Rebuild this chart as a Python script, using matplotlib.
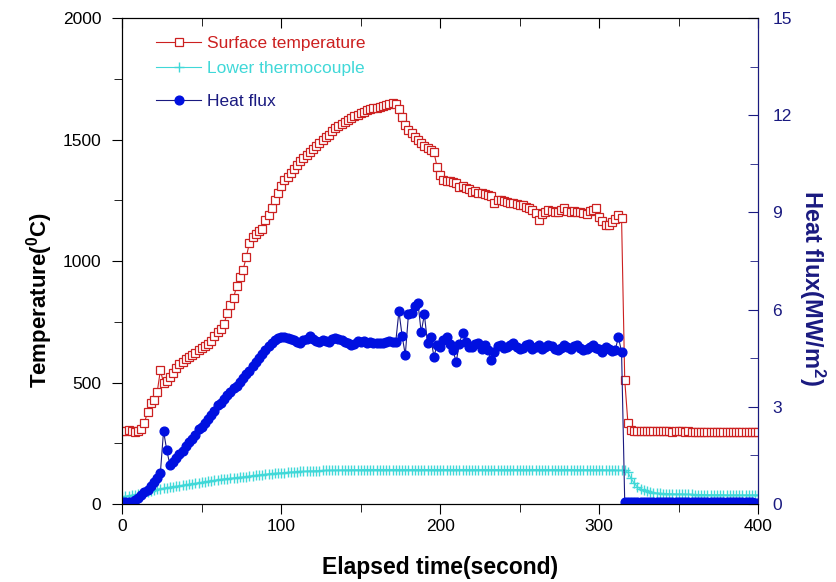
import numpy as np
import matplotlib
matplotlib.use('Agg')
import matplotlib.pyplot as plt
from matplotlib.ticker import MultipleLocator

plt.rcParams['font.family'] = ['Liberation Sans', 'DejaVu Sans']

# time axis, one reading every 2 s
time = np.arange(0, 401, 2)

# surface temperature (C)
surf_temp = [
    300, 300, 305, 300, 298, 300, 310, 335, 380, 415,
    430, 460, 550, 500, 505, 523, 540, 560, 575, 585,
    598, 607, 615, 622, 632, 642, 650, 660, 672, 690,
    706, 722, 740, 786, 819, 848, 897, 935, 963, 1016,
    1074, 1099, 1110, 1125, 1132, 1169, 1190, 1220, 1250, 1280,
    1310, 1333, 1346, 1362, 1380, 1395, 1410, 1422, 1435, 1448,
    1460, 1472, 1484, 1498, 1510, 1520, 1535, 1547, 1556, 1565,
    1572, 1580, 1588, 1595, 1602, 1609, 1615, 1620, 1624, 1628,
    1630, 1632, 1640, 1644, 1646, 1650, 1645, 1625, 1593, 1560,
    1539, 1525, 1510, 1498, 1485, 1475, 1465, 1455, 1449, 1387,
    1354, 1335, 1330, 1328, 1325, 1321, 1305, 1310, 1300, 1298,
    1284, 1290, 1282, 1280, 1275, 1272, 1268, 1239, 1250, 1251,
    1245, 1243, 1240, 1239, 1236, 1232, 1230, 1222, 1218, 1210,
    1198, 1169, 1195, 1202, 1210, 1205, 1200, 1202, 1210, 1218,
    1205, 1202, 1204, 1202, 1200, 1198, 1195, 1205, 1210, 1218,
    1181, 1165, 1150, 1148, 1160, 1175, 1189, 1177, 510, 333,
    305, 302, 300, 300, 301, 299, 300, 300, 301, 300,
    299, 300, 300, 298, 299, 300, 299, 298, 299, 298,
    297, 298, 298, 297, 298, 297, 296, 297, 297, 296,
    296, 297, 296, 296, 295, 296, 295, 295, 296, 295,
    295,
]

# lower thermocouple (C)
lower_tc = [
    30, 32, 34, 36, 38, 40, 43, 46, 50, 54,
    57, 60, 63, 65, 67, 69, 71, 73, 75, 77,
    79, 81, 83, 85, 87, 89, 91, 93, 95, 97,
    99, 101, 103, 104, 106, 107, 109, 110, 111, 113,
    115, 116, 118, 119, 121, 122, 124, 125, 126, 127,
    128, 129, 130, 131, 132, 133, 134, 134, 135, 136,
    136, 137, 137, 138, 138, 139, 139, 139, 140, 140,
    140, 140, 141, 141, 141, 141, 142, 142, 142, 142,
    142, 142, 142, 142, 142, 142, 142, 142, 142, 142,
    142, 142, 142, 142, 142, 142, 142, 142, 142, 142,
    142, 142, 142, 142, 142, 142, 142, 142, 142, 142,
    142, 142, 142, 142, 142, 142, 142, 142, 142, 142,
    142, 142, 142, 142, 142, 142, 142, 142, 142, 142,
    142, 142, 142, 142, 142, 142, 142, 142, 142, 142,
    142, 142, 141, 141, 141, 141, 141, 141, 141, 141,
    141, 141, 140, 140, 140, 140, 139, 139, 138, 130,
    105, 85, 70, 62, 56, 52, 49, 47, 45, 44,
    43, 43, 42, 42, 41, 41, 41, 40, 40, 40,
    39, 39, 39, 39, 38, 38, 38, 38, 38, 38,
    37, 37, 37, 37, 37, 37, 37, 37, 37, 37,
    37,
]

# heat flux (MW/m2)
heat_flux = [
    0.05, 0.05, 0.05, 0.06, 0.12, 0.20, 0.28, 0.36, 0.43, 0.56,
    0.68, 0.80, 0.96, 2.25, 1.67, 1.20, 1.30, 1.42, 1.55, 1.65,
    1.78, 1.90, 2.00, 2.12, 2.30, 2.38, 2.50, 2.62, 2.75, 2.88,
    3.05, 3.12, 3.25, 3.36, 3.47, 3.58, 3.65, 3.77, 3.88, 4.00,
    4.12, 4.25, 4.38, 4.50, 4.62, 4.75, 4.88, 4.98, 5.06, 5.12,
    5.15, 5.15, 5.12, 5.10, 5.05, 5.00, 4.98, 5.05, 5.10, 5.20,
    5.08, 5.02, 5.00, 5.05, 5.04, 5.00, 5.08, 5.12, 5.10, 5.05,
    5.00, 4.98, 4.92, 4.95, 5.02, 5.00, 5.02, 4.98, 5.00, 4.98,
    4.97, 4.98, 4.97, 5.00, 5.02, 5.00, 5.00, 5.95, 5.20, 4.60,
    5.85, 5.90, 6.10, 6.20, 5.30, 5.85, 4.97, 5.15, 4.55, 4.90,
    4.85, 5.05, 5.15, 4.95, 4.75, 4.38, 4.95, 5.28, 5.00, 4.85,
    4.85, 4.95, 4.97, 4.80, 4.90, 4.75, 4.44, 4.70, 4.88, 4.92,
    4.81, 4.85, 4.90, 4.97, 4.85, 4.78, 4.82, 4.90, 4.95, 4.80,
    4.85, 4.90, 4.78, 4.86, 4.92, 4.88, 4.80, 4.75, 4.82, 4.90,
    4.85, 4.78, 4.88, 4.92, 4.82, 4.75, 4.80, 4.86, 4.90, 4.82,
    4.78, 4.70, 4.85, 4.80, 4.72, 4.75, 5.15, 4.70, 0.05, 0.05,
    0.05, 0.05, 0.05, 0.05, 0.05, 0.05, 0.05, 0.05, 0.05, 0.05,
    0.05, 0.05, 0.05, 0.05, 0.05, 0.05, 0.05, 0.05, 0.05, 0.05,
    0.05, 0.05, 0.05, 0.05, 0.05, 0.05, 0.05, 0.05, 0.05, 0.05,
    0.05, 0.05, 0.05, 0.05, 0.05, 0.05, 0.05, 0.05, 0.05, 0.04,
    0.03,
]

navy = '#1a1a80'

fig = plt.figure(figsize=(8.37, 5.82), dpi=100)
ax = fig.add_axes([0.146, 0.134, 0.76, 0.835])

ax.plot(time, surf_temp, color='#cc2020', linewidth=0.8, marker='s', markersize=6,
        markerfacecolor='white', markeredgecolor='#cc2020', markeredgewidth=0.9,
        label='Surface temperature')
ax.plot(time, lower_tc, color='#40d8d8', linewidth=0.8, marker='+', markersize=7,
        markeredgewidth=1.0, label='Lower thermocouple')

ax.set_xlim(0, 400)
ax.set_ylim(0, 2000)
ax.xaxis.set_major_locator(MultipleLocator(100))
ax.xaxis.set_minor_locator(MultipleLocator(50))
ax.yaxis.set_major_locator(MultipleLocator(500))
ax.yaxis.set_minor_locator(MultipleLocator(250))
ax.tick_params(axis='both', which='major', labelsize=12.5, length=7, direction='out')
ax.tick_params(axis='both', which='minor', length=6, direction='out')
ax.tick_params(axis='y', which='major', pad=8)
ax.tick_params(axis='x', which='both', top=True, labeltop=False)
# top ticks point inward
for t in ax.xaxis.get_major_ticks() + ax.xaxis.get_minor_ticks():
    t.tick2line.set_marker(3)

ax.set_xlabel('Elapsed time(second)', fontsize=16.5, fontweight='bold', labelpad=16)
ax.set_ylabel(r'Temperature($\mathregular{^{0}}$C)', fontsize=16, fontweight='bold')
ax.yaxis.set_label_coords(-0.105, 0.42)

ax2 = ax.twinx()
ax2.plot(time, heat_flux, color=navy, linewidth=0.8, marker='o', markersize=6.3,
         markerfacecolor='#0010e0', markeredgecolor='#0010e0', label='Heat flux')
ax2.set_ylim(0, 15)
ax2.yaxis.set_major_locator(MultipleLocator(3))
ax2.yaxis.set_minor_locator(MultipleLocator(1.5))
ax2.tick_params(axis='y', which='major', direction='in', length=7, labelsize=12.5,
                colors=navy, pad=10)
ax2.tick_params(axis='y', which='minor', direction='in', length=6, colors=navy)
ax2.spines['right'].set_color(navy)
ax2.set_ylabel(r'Heat flux(MW/m$\mathregular{^2}$)', fontsize=17, fontweight='bold',
               color=navy, rotation=270, va='center')
ax2.yaxis.set_label_coords(1.085, 0.445)

leg1 = ax.legend(loc='upper left', bbox_to_anchor=(0.04, 0.981), frameon=False,
                 fontsize=12.5, handlelength=2.6, handletextpad=0.3, labelspacing=0.55,
                 labelcolor='linecolor', borderpad=0)
leg2 = ax2.legend(loc='upper left', bbox_to_anchor=(0.04, 0.861), frameon=False,
                  fontsize=12.5, handlelength=2.6, handletextpad=0.3,
                  labelcolor='linecolor', borderpad=0)

fig.savefig('out.png', dpi=100)
